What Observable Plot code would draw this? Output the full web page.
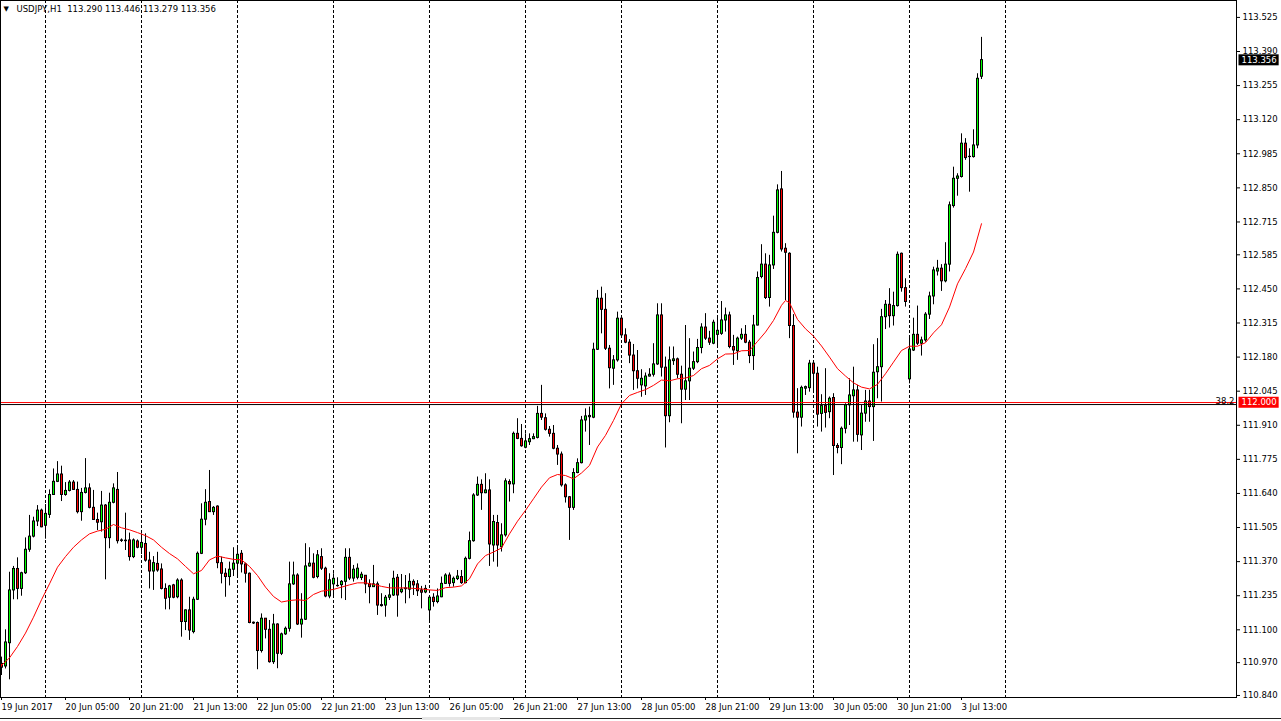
<!DOCTYPE html>
<html>
<head>
<meta charset="utf-8">
<script src="https://cdn.jsdelivr.net/npm/d3@7"></script>
<script src="https://cdn.jsdelivr.net/npm/@observablehq/plot@0.6"></script>
<style>
  html, body { margin: 0; padding: 0; background: #fff; }
  #wrap { position: relative; width: 1281px; height: 721px; overflow: hidden; }
  #wrap svg { display: block; }
  .tabline { position: absolute; top: 718px; height: 1px; background: #222; }
  .tabgap { position: absolute; top: 717px; height: 3px; background: #e6e6e6; }
</style>
</head>
<body>
<div id="wrap">
  <div class="tabline" style="left:0;width:1281px"></div>
  <div class="tabgap" style="left:422px;width:78px"></div>
</div>
<script>
// ---- USDJPY H1 OHLC, bar 0 = 19 Jun 2017 13:00 ----
const open = [
110.965,110.955,111.047,111.256,111.341,111.262,111.324,111.417,111.469,111.529,
111.572,111.512,111.555,111.634,111.686,111.715,111.634,111.650,111.683,111.654,
111.566,111.642,111.660,111.583,111.535,111.526,111.592,111.463,111.603,111.654,
111.454,111.453,111.454,111.388,111.450,111.425,111.440,111.374,111.331,111.361,
111.339,111.262,111.227,111.276,111.229,111.295,111.131,111.177,111.091,111.219,
111.401,111.536,111.606,111.566,111.588,111.364,111.322,111.309,111.338,111.362,
111.401,111.359,111.322,111.128,111.127,111.016,111.144,111.100,110.972,111.121,
111.005,111.082,111.104,111.280,111.315,111.121,111.140,111.351,111.362,111.309,
111.388,111.342,111.232,111.280,111.273,111.277,111.290,111.385,111.303,111.306,
111.305,111.314,111.280,111.269,111.280,111.198,111.196,111.227,111.236,111.306,
111.249,111.261,111.259,111.290,111.280,111.256,111.248,111.177,111.227,111.210,
111.229,111.282,111.315,111.285,111.301,111.309,111.285,111.381,111.451,111.632,
111.674,111.641,111.652,111.434,111.523,111.427,111.474,111.685,111.676,111.876,
111.856,111.821,111.843,111.855,111.860,111.955,111.938,111.892,111.876,111.817,
111.794,111.672,111.625,111.583,111.721,111.760,111.929,111.942,111.940,112.209,
112.411,112.367,112.213,112.134,112.167,112.332,112.266,112.237,112.186,112.124,
112.068,112.064,112.103,112.110,112.151,112.345,112.138,111.946,112.164,112.171,
112.110,112.051,112.084,112.134,112.160,112.216,112.297,112.253,112.233,112.268,
112.272,112.325,112.345,112.220,112.203,112.253,112.268,112.237,112.184,112.305,
112.497,112.546,112.414,112.543,112.672,112.844,112.609,112.589,112.303,111.960,
111.940,112.055,112.057,112.154,112.114,111.955,111.986,111.962,112.018,111.828,
111.820,111.896,111.989,112.025,112.048,111.870,111.956,112.004,111.982,112.120,
112.140,112.338,112.387,112.342,112.382,112.589,112.453,112.092,112.206,112.268,
112.233,112.246,112.348,112.420,112.519,112.530,112.480,112.546,112.778,112.886,
112.893,113.025,112.972,112.972,113.018,113.290];

const high = [
110.992,111.100,111.328,111.351,111.385,111.328,111.464,111.553,111.546,111.592,
111.578,111.596,111.654,111.737,111.766,111.748,111.683,111.691,111.691,111.685,
111.660,111.778,111.678,111.652,111.562,111.648,111.596,111.641,111.678,111.723,
111.460,111.562,111.483,111.460,111.456,111.480,111.480,111.407,111.390,111.407,
111.361,111.282,111.276,111.280,111.302,111.302,111.179,111.229,111.229,111.408,
111.599,111.655,111.731,111.588,111.591,111.388,111.342,111.368,111.425,111.430,
111.414,111.364,111.325,111.131,111.131,111.163,111.144,111.137,111.161,111.124,
111.087,111.111,111.368,111.368,111.322,111.243,111.441,111.425,111.401,111.414,
111.421,111.348,111.322,111.322,111.306,111.295,111.421,111.421,111.355,111.361,
111.328,111.315,111.298,111.355,111.289,111.243,111.236,111.282,111.332,111.319,
111.319,111.315,111.322,111.298,111.295,111.272,111.276,111.229,111.243,111.262,
111.309,111.322,111.325,111.309,111.335,111.335,111.388,111.487,111.639,111.705,
111.694,111.718,111.694,111.553,111.553,111.520,111.698,111.694,111.883,111.936,
111.913,111.876,111.876,111.876,111.985,112.068,111.955,111.905,111.909,111.830,
111.804,111.678,111.628,111.738,111.777,111.945,111.975,111.982,112.235,112.444,
112.457,112.431,112.226,112.186,112.358,112.338,112.292,112.249,112.230,112.206,
112.130,112.117,112.134,112.233,112.391,112.391,112.180,112.220,112.220,112.176,
112.144,112.305,112.253,112.200,112.250,112.312,112.352,112.282,112.326,112.338,
112.400,112.374,112.358,112.266,112.259,112.292,112.305,112.246,112.345,112.517,
112.625,112.589,112.583,112.738,112.862,112.915,112.629,112.593,112.348,112.055,
112.065,112.065,112.167,112.163,112.140,112.031,112.134,112.022,112.035,111.837,
111.903,111.995,112.094,112.140,112.068,111.989,112.048,112.048,112.229,112.253,
112.369,112.404,112.451,112.437,112.596,112.592,112.490,112.255,112.334,112.382,
112.259,112.356,112.437,112.536,112.563,112.546,112.633,112.794,112.932,112.906,
113.064,113.045,113.005,113.080,113.302,113.446];

const low = [
110.919,110.945,110.902,111.219,111.219,111.233,111.319,111.407,111.464,111.509,
111.504,111.459,111.541,111.632,111.683,111.608,111.629,111.646,111.652,111.559,
111.530,111.638,111.579,111.533,111.493,111.487,111.298,111.421,111.599,111.440,
111.446,111.414,111.372,111.382,111.421,111.398,111.368,111.262,111.256,111.328,
111.258,111.179,111.179,111.223,111.223,111.071,111.097,111.058,111.084,111.216,
111.398,111.512,111.566,111.553,111.342,111.282,111.229,111.274,111.311,111.315,
111.325,111.285,111.124,111.121,110.942,111.008,111.064,110.968,110.963,110.946,
110.998,111.078,111.091,111.276,111.117,111.067,111.137,111.348,111.302,111.302,
111.335,111.227,111.223,111.232,111.269,111.223,111.216,111.295,111.289,111.298,
111.295,111.243,111.203,111.269,111.157,111.190,111.150,111.216,111.232,111.150,
111.243,111.203,111.223,111.236,111.232,111.183,111.243,111.127,111.190,111.203,
111.227,111.280,111.269,111.269,111.295,111.280,111.282,111.377,111.447,111.628,
111.573,111.639,111.351,111.368,111.348,111.408,111.467,111.606,111.639,111.853,
111.823,111.817,111.830,111.853,111.856,111.929,111.887,111.863,111.813,111.751,
111.665,111.602,111.454,111.573,111.718,111.757,111.883,111.830,111.936,112.206,
112.272,112.206,112.054,112.068,112.160,112.259,112.233,112.154,112.048,112.054,
112.021,112.028,112.101,112.101,112.147,112.101,111.820,111.920,112.147,112.094,
111.916,112.008,112.008,112.127,112.154,112.193,112.246,112.226,112.229,112.220,
112.266,112.279,112.213,112.147,112.167,112.246,112.233,112.154,112.127,112.303,
112.490,112.408,112.378,112.527,112.668,112.596,112.404,112.253,111.938,111.797,
111.903,112.028,112.041,112.041,111.903,111.883,111.899,111.936,111.711,111.797,
111.754,111.876,111.909,111.843,111.843,111.810,111.922,111.922,111.846,112.015,
112.002,112.289,112.295,112.303,112.378,112.437,112.378,112.074,112.202,112.226,
112.184,112.239,112.329,112.387,112.501,112.440,112.474,112.517,112.770,112.817,
112.889,112.959,112.833,112.968,113.005,113.279];

const close = [
110.950,111.050,111.256,111.341,111.262,111.324,111.417,111.469,111.529,111.572,
111.506,111.559,111.634,111.686,111.715,111.634,111.650,111.683,111.654,111.566,
111.642,111.660,111.583,111.535,111.524,111.592,111.463,111.603,111.660,111.451,
111.452,111.451,111.388,111.454,111.425,111.444,111.374,111.331,111.364,111.335,
111.262,111.223,111.272,111.227,111.295,111.131,111.177,111.097,111.219,111.401,
111.536,111.603,111.566,111.583,111.364,111.322,111.309,111.338,111.362,111.397,
111.359,111.322,111.127,111.125,111.016,111.144,111.100,110.972,111.121,111.005,
111.082,111.104,111.280,111.315,111.121,111.140,111.351,111.362,111.306,111.395,
111.342,111.232,111.296,111.302,111.274,111.290,111.385,111.303,111.338,111.342,
111.318,111.280,111.269,111.280,111.196,111.194,111.227,111.236,111.302,111.236,
111.259,111.264,111.290,111.276,111.253,111.247,111.262,111.227,111.210,111.232,
111.282,111.315,111.282,111.302,111.311,111.285,111.381,111.451,111.632,111.674,
111.641,111.652,111.438,111.527,111.434,111.474,111.688,111.676,111.876,111.856,
111.827,111.846,111.855,111.863,111.955,111.940,111.892,111.876,111.817,111.794,
111.672,111.625,111.583,111.721,111.760,111.929,111.945,111.947,112.209,112.411,
112.367,112.213,112.136,112.167,112.332,112.266,112.237,112.186,112.124,112.094,
112.094,112.103,112.110,112.151,112.345,112.138,111.946,112.167,112.171,112.110,
112.051,112.084,112.134,112.160,112.216,112.297,112.253,112.237,112.316,112.284,
112.325,112.345,112.220,112.206,112.253,112.268,112.237,112.184,112.305,112.493,
112.546,112.414,112.543,112.672,112.840,112.606,112.593,112.303,111.960,111.940,
112.058,112.061,112.154,112.114,111.952,111.986,111.959,112.015,111.828,111.820,
111.896,111.989,112.028,112.048,111.872,111.956,112.004,111.982,112.118,112.140,
112.338,112.387,112.342,112.382,112.585,112.453,112.398,112.210,112.268,112.233,
112.246,112.348,112.420,112.523,112.530,112.480,112.546,112.781,112.886,112.895,
113.025,112.968,112.973,113.018,113.282,113.356];

// ---- moving average (red line) at these bars ----
const maBars = [0,2,4,6,8,10,12,14,16,18,20,22,24,26,28,30,32,34,36,38,40,42,44,46,48,50,
52,54,56,58,60,62,64,66,68,70,72,74,76,78,80,83,85,87,89,91,93,95,97,99,101,103,105,107,109,
111,113,115,117,119,121,123,125,127,129,131,133,135,137,139,141,143,145,147,149,151,153,155,
157,159,161,163,165,167,169,171,173,175,177,179,181,183,185,187,189,191,193,195,196,197,199,
201,203,205,207,209,211,213,215,217,219,221,223,225,227,229,231,233,235,237,239,241,243,245];
const maValues = [110.959,110.989,111.034,111.087,111.150,111.219,111.282,111.348,111.390,111.427,
111.456,111.480,111.491,111.498,111.517,111.504,111.496,111.485,111.473,111.456,111.427,111.402,
111.381,111.351,111.322,111.335,111.377,111.392,111.385,111.379,111.377,111.351,111.315,111.269,
111.232,111.210,111.216,111.219,111.216,111.240,111.253,111.260,111.269,111.278,111.286,111.286,
111.280,111.272,111.266,111.266,111.266,111.264,111.262,111.258,111.256,111.267,111.269,111.274,
111.302,111.361,111.394,111.408,111.424,111.480,111.530,111.573,111.619,111.665,111.702,111.715,
111.711,111.698,111.721,111.751,111.824,111.870,111.929,111.995,112.028,112.040,112.051,112.068,
112.089,112.086,112.094,112.097,112.107,112.134,112.147,112.173,112.192,112.193,112.205,112.206,
112.242,112.279,112.325,112.385,112.404,112.395,112.329,112.292,112.263,112.224,112.180,112.134,
112.105,112.078,112.061,112.054,112.072,112.114,112.160,112.206,112.223,112.223,112.237,112.276,
112.308,112.378,112.470,112.530,112.596,112.708];

// ---- axes, separators, levels ----
const yTicks = [113.525,113.390,113.255,113.120,112.985,112.850,112.715,112.585,112.450,112.315,
112.180,112.045,111.910,111.775,111.640,111.505,111.370,111.235,111.100,110.970,110.840];
const xTickBars = [0,16,32,48,64,80,96,112,128,144,160,176,192,208,224,240];
const xTickLabels = ["19 Jun 2017","20 Jun 05:00","20 Jun 21:00","21 Jun 13:00","22 Jun 05:00",
"22 Jun 21:00","23 Jun 13:00","26 Jun 05:00","26 Jun 21:00","27 Jun 13:00","28 Jun 05:00",
"28 Jun 21:00","29 Jun 13:00","30 Jun 05:00","30 Jun 21:00","3 Jul 13:00"];
const daySeparatorBars = [11,35,59,83,107,131,155,179,203,227,251];
const hLineLevel = 112.000;
const fibLevel = 111.992;
const fibLabel = "38.2";
const symbolTitle = "USDJPY,H1";
const lastOHLC = [113.290, 113.446, 113.279, 113.356];
const priceTags = [{v: 113.356, color: "#000000"}, {v: 112.000, color: "#ff0000"}];

const bars = open.map((o, i) => ({i, open: o, high: high[i], low: low[i], close: close[i]}));
const ma = maBars.map((b, k) => ({i: b, v: maValues[k]}));
const labelByBar = new Map(xTickBars.map((b, k) => [b, xTickLabels[k]]));
const bodyTop = d => Math.max(d.open, d.close);
const bodyBottom = d => Math.min(d.open, d.close);
const bodyColor = d => d.close >= d.open ? "#00ff00" : "#ff0000";

const chart = Plot.plot({
  width: 1281,
  height: 721,
  marginTop: 0,
  marginLeft: 0,
  marginRight: 45,
  marginBottom: 24,
  style: {fontFamily: "'DejaVu Sans', sans-serif", fontSize: "8.5px", background: "#ffffff", color: "#000000"},
  x: {type: "linear", domain: [-0.25, 308.75]},
  y: {domain: [110.832, 113.592]},
  marks: [
    Plot.ruleX(daySeparatorBars, {stroke: "#000", strokeWidth: 1, strokeDasharray: "3,2"}),
    // wicks
    Plot.ruleX(bars, {x: "i", y1: "low", y2: "high", stroke: "#000", strokeWidth: 1}),
    // body outline (3px black) and body fill (1px colour), both centred on the wick
    Plot.ruleX(bars, {x: "i", y1: bodyTop, y2: bodyBottom, stroke: "#000", strokeWidth: 3, insetTop: -0.5, insetBottom: -0.5}),
    Plot.ruleX(bars.filter(d => Math.abs(d.close - d.open) > 0.004), {x: "i", y1: bodyTop, y2: bodyBottom, stroke: bodyColor, strokeWidth: 1, insetTop: 0.5, insetBottom: 0.5}),
    Plot.line(ma, {x: "i", y: "v", stroke: "#ff0000", strokeWidth: 1}),
    Plot.ruleY([fibLevel], {stroke: "#000", strokeWidth: 1}),
    Plot.ruleY([hLineLevel], {stroke: "#ff0000", strokeWidth: 1}),
    Plot.text([fibLevel], {y: d => d, text: () => fibLabel, frameAnchor: "right", textAnchor: "end", lineAnchor: "bottom", dx: -2, dy: -1, fill: "#000"}),
    Plot.frame({stroke: "#000"}),
    Plot.axisY(yTicks, {anchor: "right", tickSize: 3, tickPadding: 3, tickFormat: d => d.toFixed(3), label: null, fill: "#000"}),
    Plot.axisX(xTickBars, {anchor: "bottom", tickSize: 3, tickPadding: 3, tickFormat: d => labelByBar.get(d), textAnchor: "start", label: null, fill: "#000"}),
    Plot.text(priceTags, {y: "v", text: d => d.v.toFixed(3), frameAnchor: "right", textAnchor: "start", dx: 5, fill: "#fff", className: "pricetag"}),
    Plot.text(["\u25BC"], {frameAnchor: "top-left", textAnchor: "start", lineAnchor: "top", dx: 3, dy: 6, fontSize: 7, fill: "#000"}),
    Plot.text([symbolTitle + "\u00a0\u00a0" + lastOHLC.map(v => v.toFixed(3)).join("\u00a0")], {frameAnchor: "top-left", textAnchor: "start", lineAnchor: "top", dx: 16, dy: 5, fill: "#000"})
  ]
});

document.getElementById("wrap").prepend(chart);

// background boxes behind the right-axis price tags
d3.select(chart).selectAll("g.pricetag text").each(function(d, k) {
  const b = this.getBBox();
  const rect = document.createElementNS("http://www.w3.org/2000/svg", "rect");
  rect.setAttribute("x", b.x - 3);
  rect.setAttribute("y", b.y - 0.5);
  rect.setAttribute("width", b.width + 5);
  rect.setAttribute("height", b.height + 1);
  rect.setAttribute("fill", priceTags[k].color);
  const t = this.getAttribute("transform");
  if (t) rect.setAttribute("transform", t);
  this.parentNode.insertBefore(rect, this);
});
</script>
</body>
</html>
